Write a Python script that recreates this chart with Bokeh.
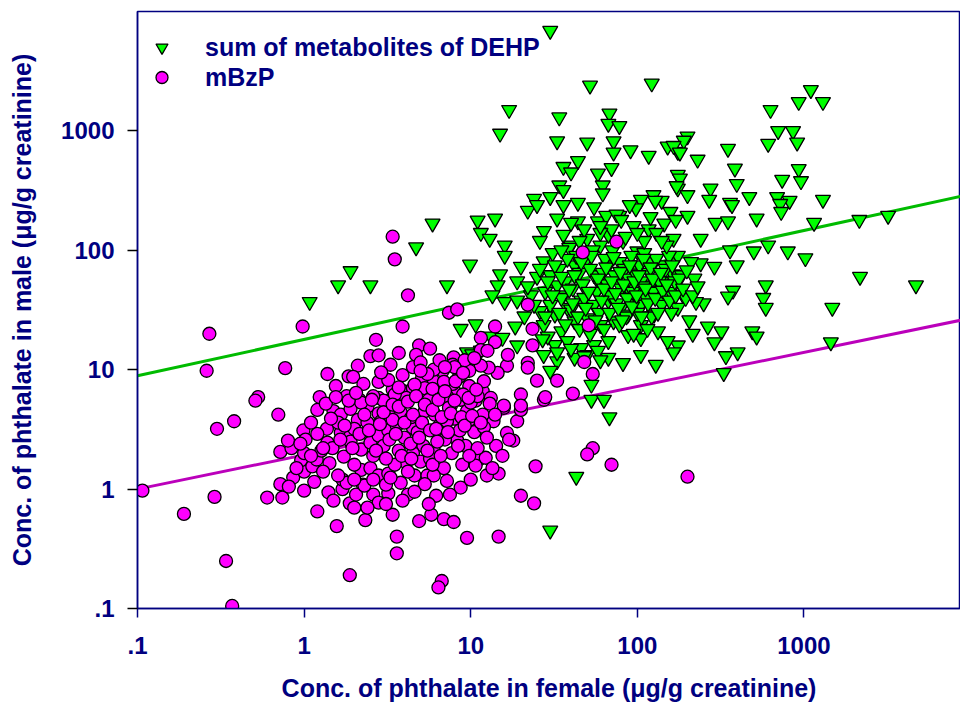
from bokeh.plotting import figure
from bokeh.models import FixedTicker, CustomJSTickFormatter, Legend, LegendItem, ColumnDataSource, Title
from bokeh.embed import file_html
from bokeh.resources import INLINE

NAVY = "#000080"
FONT = "Liberation Sans"

# ---- data: sum of DEHP metabolites (female conc., male conc.) ----
dehp_female = [
    30, 52, 122, 17, 15, 34, 68, 67, 78, 33, 50, 72, 72, 91, 117, 152, 175, 44, 36, 40,
    70, 58, 34, 36, 30, 24, 62, 62, 125, 105, 140, 175, 175, 1100, 930, 1300, 630, 700, 860, 610,
    910, 200, 190, 165, 180, 230, 350, 385, 395, 470, 275, 270, 360, 180, 172, 200, 740, 930, 960, 690,
    820, 1300, 370, 720, 520, 730, 1150, 2150, 3200, 295, 350, 240, 200, 165, 360, 500, 610, 800, 1020, 175,
    240, 290, 395, 2170, 4700, 220, 375, 590, 570, 590, 350, 1480, 250, 225, 190, 165, 205, 215, 265, 320,
    290, 490, 520, 1450, 400, 340, 175, 165, 330, 5.9, 4.7, 9.9, 7.2, 11, 14, 11.5, 13, 16, 16, 20,
    15, 14.5, 13.5, 16, 19, 8.7, 10.7, 9.5, 10.2, 11.5, 13.2, 15.5, 19, 18.5, 22, 25, 36, 44, 44, 33,
    36, 27.5, 26, 40, 50, 58, 65, 78, 67, 60, 82, 98, 100, 117, 145, 158, 128, 120, 145, 163,
    140, 120,
    27.4, 30, 33, 36, 42, 50, 55, 60, 67, 76, 88, 95, 105, 91, 105, 80, 67, 55, 46, 38,
    32, 27.4, 35, 42, 50, 60, 72, 88, 105, 126, 144, 158, 175, 133, 152, 105, 88, 67, 55, 46,
    38, 32, 27.4, 33, 42, 50, 58, 67, 82, 105, 129,
    30, 43, 68, 53, 53, 63, 30, 1.08, 1.6, 1.9, 2.5,
    25, 28, 31, 34, 37, 39, 41, 43, 45, 48, 52, 54, 57, 59, 62, 64, 66, 69, 71, 73,
    75, 78, 80, 84, 86, 89, 92, 94, 97, 100, 103, 108, 110, 113, 118, 122, 125, 130, 135, 140,
    148, 155, 160, 168, 185, 195, 210, 45, 52, 63, 78, 95, 115, 40, 35, 30, 23, 21, 19, 26,
    29, 70, 85, 95, 110, 60, 48, 40, 130, 150, 75, 90, 55, 120,
]
dehp_male = [
    6900, 2400, 2500, 1500, 950, 1300, 1400, 1150, 1100, 820, 800, 820, 660, 690, 620, 740, 670, 560, 500, 450,
    490, 440, 350, 320, 280, 270, 350, 300, 290, 265, 260, 430, 330, 2200, 1750, 1750, 1500, 1000, 1000, 780,
    800, 900, 830, 750, 660, 575, 710, 485, 360, 280, 330, 265, 250, 400, 345, 290, 390, 480, 380, 280,
    260, 265, 240, 245, 185, 210, 170, 180, 195, 170, 175, 125, 195, 125, 100, 98, 110, 98, 86, 90,
    78, 73, 75, 60, 51, 58, 46, 51, 40, 33, 41, 33, 36, 37, 41, 42, 26, 20, 23, 21,
    17, 21, 19, 17, 14, 13, 16, 14, 9.4, 168, 106, 76, 51, 178, 185, 140, 125, 110, 90, 73,
    63, 51, 42, 37, 38, 22, 24, 14, 13.5, 14.5, 19, 18.5, 16, 23, 215, 240, 240, 250, 175, 185,
    135, 145, 120, 110, 125, 175, 195, 195, 135, 110, 120, 225, 98, 150, 168, 210, 260, 80, 75, 63,
    55, 51,
    81, 62, 51, 42, 75, 86, 62, 51, 75, 58, 48, 71, 55, 40, 35, 33, 38, 35, 38, 33,
    29, 23.7, 21, 25.5, 27, 23.7, 25.5, 29, 23.7, 29, 38, 45, 33, 21, 17.4, 18.4, 19.5, 17.4, 16.1, 15.2,
    17.4, 16.1, 13.3, 11.8, 12.6, 13.3, 14.4, 12.6, 11.4, 13.3, 11,
    0.45, 1.27, 4.0, 7.5, 5.6, 5.6, 9.8, 37, 51, 67, 51,
    60, 45, 95, 70, 55, 105, 48, 90, 65, 40, 70, 100, 45, 30, 65, 85, 52, 42, 100, 62,
    36, 80, 48, 70, 28, 58, 90, 45, 64, 30, 75, 50, 95, 40, 65, 28, 45, 85, 55, 35,
    70, 90, 30, 55, 62, 40, 80, 22, 20, 22, 24, 20, 22, 32, 40, 35, 42, 28, 55, 31,
    19, 150, 130, 160, 120, 140, 150, 170, 140, 110, 200, 240, 230, 190,
]
dehp_female_dense = [
    22, 24, 26, 28, 29, 31, 32, 34, 35, 37, 38, 39, 41, 42, 44, 46, 47, 49, 51, 53,
    56, 58, 61, 63, 65, 68, 70, 72, 74, 77, 79, 81, 83, 87, 90, 93, 96, 99, 102, 106,
    109, 112, 116, 120, 124, 128, 133, 138, 142, 150, 156, 162, 170, 178, 188, 198, 215, 230, 60, 45,
    35, 80, 100, 140, 170, 27, 33, 48, 60, 40,
]
dehp_male_dense = [
    50, 35, 70, 28, 55, 42, 75, 30, 60, 24, 85, 47, 36, 62, 28, 80, 52, 33, 45, 90,
    26, 58, 38, 48, 72, 30, 55, 88, 44, 33, 66, 26, 52, 40, 75, 34, 55, 42, 62, 28,
    85, 48, 36, 72, 58, 40, 30, 65, 46, 52, 38, 75, 42, 58, 48, 68, 42, 50, 160, 120,
    100, 180, 140, 120, 180, 18, 14, 13, 12, 15,
]

# ---- data: mBzP (female conc., male conc.) ----
mbzp_female = [
    3.4, 3.5, 4.2, 3.9, 0.27, 0.26, 0.98, 0.77, 0.53, 0.51, 2.7, 2.5, 2.8, 3.3, 3.9, 2.1, 1.38, 1.85, 1.97, 2.27,
    1.55, 2.8, 1.24, 2.15, 3.4, 3.95, 3.3, 2.8,
    0.107, 0.19, 0.29, 0.30, 0.38, 0.34, 0.37, 0.70, 0.60, 0.74, 0.72, 0.86, 0.81, 1.0, 1.0, 0.96, 1.12, 0.72, 0.84, 0.8,
    0.99, 1.02, 1.19, 1.27, 1.42, 1.37, 1.40, 1.70, 1.57, 1.88, 2.0, 2.33, 1.88, 3.4, 3.6, 3.6, 2.6, 2.8, 3.2, 2.25,
    1.7, 1.8, 2.05,
    1.5, 1.66, 1.9, 2.1, 2.4, 2.8, 3.3, 3.8, 1.66, 1.9, 2.2, 2.5, 2.8, 3.2, 3.6, 1.73, 2.2, 2.5, 2.8, 3.2,
    3.8, 2.3, 3.1, 3.7, 4.1, 1.38, 1.48,
    14.7, 24.5, 54, 50, 70, 20, 24, 4.9, 5.8, 6.9, 7.9, 9.5, 14.7, 6.7, 6.4, 6.2, 8.7, 10, 4.2, 7.2,
    11.2, 10.7, 12.3, 14.2, 18, 16.5, 19, 20, 15.8, 13.7, 11.8, 9.8, 8.3, 6.9, 6.0, 4.6, 5.5, 6.9, 5.3, 4.5,
    7.6, 27.5, 200,
    75, 47, 22, 7.4, 8.3, 51, 14, 23.5, 11.5, 14, 23.5, 4.9, 5.7, 4.7, 7.9, 11.5, 12.6, 48, 54, 41,
    28, 25, 33, 22, 22, 16.5, 14.5, 12.8, 11.5, 9.8, 8.7, 7.8, 6.8, 5.9, 5.1, 4.5, 5.3, 6.6, 7.9, 9.8,
    11.8, 13.2, 10.7, 8.7, 7.2, 20, 15.8, 20, 3.7, 16.7,
    4.4, 4.8, 5.2, 5.6, 6.1, 6.5, 7.0, 7.4, 8.0, 8.6, 9.0, 9.5, 4.1, 3.5, 3.0, 2.6, 2.2, 1.8, 1.6, 2.0,
    2.4, 2.9, 3.4, 4.0, 4.5, 5.0, 5.7, 6.3, 3.0, 2.6, 3.5, 4.2, 1.9, 1.2, 1.3, 1.6, 1.0, 2.0, 7.8, 8.5,
    6.9, 5.9, 9.3, 10.5, 11, 12, 12.5, 13, 14, 10, 11, 9.2, 10.5, 12, 8, 6.0, 6.5, 4.5, 5.0, 3.2,
    2.9, 4.6, 5.5, 3.7, 7.2, 7.7, 8.9, 9.8, 6.0, 5.3, 4.6, 3.9, 3.1, 2.4, 1.5, 1.2, 5.6, 7.5, 12.5, 15.5,
    17, 13.5,
]
mbzp_male = [
    130, 84, 42, 23, 20, 9.8, 23, 10.3, 5.9, 5.5, 17.8, 13, 13.2, 11, 9, 10.8, 9.2, 8.8, 8.7, 7.6,
    7.3, 7.9, 5.9, 5.6, 6.8, 6.6, 5.6, 5.8,
    0.97, 0.62, 0.86, 3.2, 3.7, 0.25, 0.105, 4.2, 0.85, 0.85, 1.1, 1.25, 1.05, 0.97, 1.4, 1.75, 1.55, 2.05, 2.2, 2.55,
    3.1, 2.6, 1.77, 2.1, 1.65, 3.2, 0.94, 1.0, 0.49, 0.76, 0.7, 0.55, 0.19, 0.61, 0.40, 0.29, 0.9, 0.77, 0.92, 1.09,
    1.2, 1.13, 0.9,
    4.5, 4.2, 4.7, 3.8, 4.9, 4.3, 4.5, 4.4, 2.97, 2.8, 2.14, 2.45, 2.8, 3.1, 3.4, 1.87, 1.45, 1.5, 1.3, 1.35,
    1.13, 1.07, 1.09, 2.1, 1.67, 2.45, 2.2,
    1.35, 1.55, 2.2, 1.95, 1.6, 0.88, 0.76, 0.54, 0.61, 0.56, 0.53, 0.39, 0.40, 0.17, 0.15, 0.88, 1.03, 1.2, 0.9, 1.17,
    1.77, 1.57, 1.83, 2.3, 2.55, 2.95, 3.7, 4.6, 4.8, 3.7, 4.2, 3.8, 2.55, 2.8, 2.1, 1.3, 1.3, 1.5, 4.5, 3.25,
    5.0, 5.6, 1.27,
    118, 96, 35, 30, 32, 23.5, 23, 22, 18.5, 17, 16, 16, 15, 13.3, 12.7, 14.6, 14.4, 11.6, 9.2, 6.3,
    5.9, 8.1, 8.1, 11.4, 10.4, 10.8, 9.4, 10.4, 10.8, 9.8, 9.1, 11, 9.8, 8.2, 8.5, 7.0, 7.0, 6.9, 6.8, 7.3,
    6.6, 5.8, 5.5, 5.6, 6.0, 6.2, 5.0, 5.0, 13.8, 13.3,
    4.0, 3.0, 2.3, 5.6, 4.2, 3.4, 2.6, 4.8, 3.9, 3.1, 6.2, 4.5, 5.8, 6.2, 5.5, 6.0, 5.3, 6.0, 3.6, 3.2,
    3.6, 3.7, 3.8, 2.7, 2.0, 1.7, 1.8, 2.5, 2.3, 1.9, 1.6, 1.4, 2.5, 2.9, 1.4, 1.3, 2.0, 1.2, 7.6, 8.7,
    7.9, 6.9, 2.3, 3.0, 2.2, 3.3, 2.7, 5.2, 4.2, 5.3, 6.0, 12, 12.5, 8, 10.5, 10, 12, 10.5, 11.5, 8.2,
    9.5, 7.5, 9.2, 7.1, 3.7, 2.0, 1.6, 1.9, 1.3, 1.1, 0.95, 0.8, 0.75, 0.7, 0.8, 0.65, 0.75, 0.9, 1.3, 1.9,
    2.6, 1.5,
]
mbzp_female_dense = [
    1.1, 1.2, 1.35, 1.45, 1.55, 1.65, 1.75, 1.85, 1.95, 2.05, 2.15, 2.3, 2.45, 2.55, 2.7, 2.85, 3.0, 3.1, 3.25, 3.4,
    3.55, 3.7, 3.85, 4.0, 4.2, 4.35, 4.5, 4.7, 4.9, 5.1, 5.3, 5.5, 5.7, 5.9, 6.2, 6.4, 6.7, 7.0, 7.3, 7.6,
    8.0, 8.4, 8.8, 9.2, 9.7, 10.2, 10.8, 11.5, 1.3, 1.15, 2.6, 3.3, 4.4, 5.9, 6.6, 0.9, 0.95, 1.1, 2.0, 8.1,
    9.0, 7.0, 5.0,
]
mbzp_male_dense = [
    3.6, 4.6, 5.2, 3.9, 5.9, 2.6, 3.4, 5.5, 2.2, 6.4, 2.9, 4.2, 3.1, 5.6, 2.1, 3.5, 4.4, 1.8, 2.6, 5.1,
    2.9, 4.9, 1.9, 3.6, 5.4, 2.4, 4.2, 6.0, 2.7, 3.6, 5.1, 2.1, 3.1, 4.6, 3.2, 5.6, 4.0, 6.6, 3.0, 4.3,
    5.5, 2.3, 4.0, 3.4, 5.8, 4.1, 6.8, 3.6, 2.2, 1.15, 1.2, 1.25, 1.8, 1.6, 1.9, 1.5, 2.4, 1.9, 1.6, 8.0,
    9.4, 10.5, 9.8,
]

# ---- regression lines ----
fit_x = [0.1, 10000]
dehp_fit = [8.9, 295]
mbzp_fit = [1.0, 27]

# ---- ticks ----
x_ticks = [0.1, 1, 10, 100, 1000]
x_tick_labels = [".1", "1", "10", "100", "1000"]
y_ticks = [0.1, 1, 10, 100, 1000]
y_tick_labels = [".1", "1", "10", "100", "1000"]

x_title = "Conc. of phthalate in female (\u03bcg/g creatinine)"
y_title = "Conc. of phthalate in male (\u03bcg/g creatinine)"

p = figure(width=960, height=716, x_axis_type="log", y_axis_type="log",
           x_range=(0.1, 8700), y_range=(0.1, 10000),
           output_backend="svg", toolbar_location=None,
           min_border_left=137, min_border_right=0, min_border_top=11, min_border_bottom=105,
           background_fill_color="white", border_fill_color="white")

p.xgrid.visible = False
p.ygrid.visible = False
p.outline_line_color = NAVY
p.outline_line_width = 1.5
p.outline_line_alpha = 1.0

fmt_code = """
const lt = Math.log10(tick);
for (let i = 0; i < tvals.length; i++) {
  if (Math.abs(Math.log10(tvals[i]) - lt) < 1e-6) return tlabels[i];
}
return "";
"""

xa = p.xaxis[0]
ya = p.yaxis[0]
xa.ticker = FixedTicker(ticks=x_ticks)
ya.ticker = FixedTicker(ticks=y_ticks)
xa.formatter = CustomJSTickFormatter(args=dict(tvals=x_ticks, tlabels=x_tick_labels), code=fmt_code)
ya.formatter = CustomJSTickFormatter(args=dict(tvals=y_ticks, tlabels=y_tick_labels), code=fmt_code)

for ax in (xa, ya):
    ax.axis_line_color = NAVY
    ax.axis_line_width = 1.5
    ax.minor_tick_line_color = None
    ax.major_tick_in = 0
    ax.major_label_text_font = FONT
    ax.major_label_text_font_style = "bold"
    ax.major_label_text_font_size = "24px"
    ax.major_label_text_color = NAVY
    ax.axis_label_text_font = FONT
    ax.axis_label_text_font_style = "bold"
    ax.axis_label_text_font_size = "25px"
    ax.axis_label_text_color = NAVY

xa.major_tick_out = 9
xa.major_tick_line_color = NAVY
xa.major_tick_line_width = 1.5
xa.major_label_standoff = 19

ya.major_tick_out = 10
ya.major_tick_line_color = "black"
ya.major_tick_line_width = 1.5
ya.major_label_standoff = 13
ya.axis_label = y_title
ya.axis_label_standoff = 22

# x-axis title as a title in the bottom panel, centred under the frame
x_label = Title(text=x_title, align="center", standoff=30,
                text_font=FONT, text_font_style="bold", text_font_size="25px",
                text_color=NAVY)
p.add_layout(x_label, "below")

p.line(fit_x, dehp_fit, line_color="#00BB00", line_width=3)
p.line(fit_x, mbzp_fit, line_color="#BB00BB", line_width=3)

src_g = ColumnDataSource(dict(x=dehp_female + dehp_female_dense, y=dehp_male + dehp_male_dense))
src_m = ColumnDataSource(dict(x=mbzp_female + mbzp_female_dense, y=mbzp_male + mbzp_male_dense))
r_g = p.scatter("x", "y", source=src_g, marker="inverted_triangle", size=15,
                fill_color="#00FF00", line_color="black", line_width=1.3)
r_m = p.scatter("x", "y", source=src_m, marker="circle", size=13,
                fill_color="#FF00FF", line_color="black", line_width=1.3)

legend = Legend(items=[LegendItem(label="sum of metabolites of DEHP", renderers=[r_g]),
                       LegendItem(label="mBzP", renderers=[r_m])],
                location=(7, 516), border_line_color=None, background_fill_alpha=0,
                padding=0, margin=0, spacing=0, glyph_width=35, glyph_height=30,
                label_height=30, label_standoff=26,
                label_text_font=FONT, label_text_font_style="bold",
                label_text_font_size="25px", label_text_color=NAVY)
p.add_layout(legend)

open("out.html", "w").write(file_html(p, INLINE))
